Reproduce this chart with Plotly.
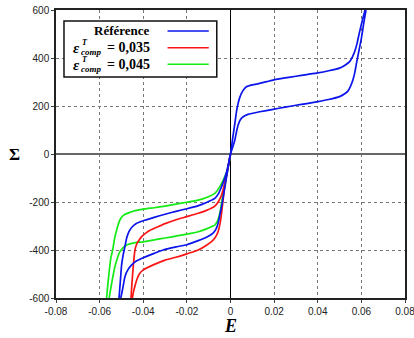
import plotly.graph_objects as go

# ---------------- data ----------------
# Reference curve (blue), branch with larger stress magnitude
ref_b1_x = [-0.0503, -0.0496, -0.0490, -0.0484, -0.0470, -0.0453, -0.0430, -0.0400, -0.0350, -0.0300,
            -0.0250, -0.0200, -0.0148, -0.0110, -0.0080, -0.0066, -0.0057, -0.0048, -0.0038, -0.0028,
            -0.0018, -0.0009, 0.0000, 0.0010, 0.0020, 0.0028, 0.0035, 0.0043, 0.0050, 0.0060,
            0.0073, 0.0100, 0.0134, 0.0195, 0.0250, 0.0300, 0.0350, 0.0400, 0.0450, 0.0500,
            0.0525, 0.0546, 0.0558, 0.0569, 0.0580, 0.0592, 0.0604, 0.0617]
ref_b1_y = [-600, -570, -540, -511, -482, -462, -445, -432, -414, -397,
            -387, -378, -361, -347, -330, -312, -289, -250, -205, -150,
            -95, -45, 0, 65, 128, 180, 211, 237, 253, 268,
            280, 288, 294, 308, 317, 324, 331, 338, 347, 358,
            370, 385, 403, 426, 460, 510, 555, 600]
# Reference curve (blue), branch with smaller stress magnitude
ref_b2_x = [-0.0511, -0.0505, -0.0499, -0.0492, -0.0484, -0.0476, -0.0465, -0.0450, -0.0430, -0.0400,
            -0.0350, -0.0300, -0.0250, -0.0200, -0.0150, -0.0110, -0.0072, -0.0055, -0.0041, -0.0030,
            -0.0018, -0.0008, 0.0000, 0.0010, 0.0020, 0.0028, 0.0035, 0.0045, 0.0058, 0.0080,
            0.0134, 0.0195, 0.0250, 0.0300, 0.0350, 0.0400, 0.0450, 0.0500, 0.0525, 0.0538,
            0.0550, 0.0561, 0.0570, 0.0579, 0.0600, 0.0610, 0.0621]
ref_b2_y = [-600, -530, -460, -420, -385, -350, -322, -303, -289, -278,
            -264, -251, -239, -228, -216, -202, -185, -165, -136, -110,
            -75, -35, 0, 28, 58, 95, 121, 143, 155, 165,
            176, 186, 195, 203, 210, 218, 227, 239, 252, 262,
            282, 308, 340, 385, 482, 540, 600]

# eps_comp^T = 0,035 (red)
c035_b1_x = [-0.0450, -0.0445, -0.0438, -0.0430, -0.0418, -0.0400, -0.0354, -0.0300, -0.0250, -0.0200,
             -0.0148, -0.0110, -0.0087, -0.0070, -0.0057, -0.0048, -0.0041, -0.0035, -0.0029, -0.0018,
             -0.0008, 0.0000]
c035_b1_y = [-600, -575, -550, -525, -500, -483, -462, -442, -430, -416,
             -400, -380, -365, -348, -324, -290, -247, -200, -150, -90,
             -40, 0]
c035_b2_x = [-0.0456, -0.0452, -0.0446, -0.0438, -0.0430, -0.0418, -0.0407, -0.0390, -0.0369, -0.0330,
             -0.0300, -0.0250, -0.0200, -0.0148, -0.0110, -0.0072, -0.0055, -0.0041, -0.0030, -0.0023,
             -0.0012, 0.0000]
c035_b2_y = [-600, -540, -470, -400, -375, -357, -344, -331, -318, -302,
             -290, -274, -261, -247, -235, -217, -198, -171, -135, -108,
             -58, 0]

# eps_comp^T = 0,045 (green)
c045_b1_x = [-0.0556, -0.0549, -0.0540, -0.0530, -0.0518, -0.0507, -0.0492, -0.0476, -0.0440, -0.0400,
             -0.0350, -0.0300, -0.0250, -0.0200, -0.0148, -0.0110, -0.0085, -0.0072, -0.0060, -0.0049,
             -0.0042, -0.0034, -0.0022, -0.0010, 0.0000]
c045_b1_y = [-600, -560, -515, -470, -432, -407, -390, -379, -370, -366,
             -358, -350, -342, -334, -324, -312, -302, -296, -280, -247,
             -210, -164, -105, -50, 0]
c045_b2_x = [-0.0568, -0.0562, -0.0555, -0.0548, -0.0540, -0.0531, -0.0520, -0.0507, -0.0490, -0.0461,
             -0.0400, -0.0350, -0.0300, -0.0250, -0.0200, -0.0148, -0.0110, -0.0072, -0.0049, -0.0026,
             -0.0014, 0.0000]
c045_b2_y = [-600, -540, -480, -430, -400, -350, -310, -275, -255, -243,
             -230, -224, -217, -209, -201, -192, -181, -164, -136, -94,
             -67, 0]

# axes ticks
x_tick_vals = [-0.08, -0.06, -0.04, -0.02, 0, 0.02, 0.04, 0.06, 0.08]
x_tick_text = ["-0.08", "-0.06", "-0.04", "-0.02", "0", "0.02", "0.04", "0.06", "0.08"]
y_tick_vals = [-600, -400, -200, 0, 200, 400, 600]
y_tick_text = ["-600", "-400", "-200", "0", "200", "400", "600"]

series_colors = {"ref": "rgb(10,20,235)", "c035": "rgb(250,20,20)", "c045": "rgb(20,235,20)"}

# ---------------- figure ----------------
W, H = 414, 338
# plot area in page pixels: x 56 -> 405.5, y 10 -> 298
ML, MR, MT, MB = 56, W - 405.5, 10, H - 298
PW, PH = W - ML - MR, H - MT - MB


def px(x):  # page pixel x -> paper coordinate
    return (x - ML) / PW


def py(y):  # page pixel y -> paper coordinate
    return (H - MB - y) / PH


fig = go.Figure()


def add_series(xs1, ys1, xs2, ys2, color):
    fig.add_trace(go.Scatter(x=xs1 + [None] + xs2, y=ys1 + [None] + ys2, mode="lines",
                             line=dict(color=color, width=1.7, shape="spline", smoothing=0.5),
                             showlegend=False, hoverinfo="skip"))


add_series(c045_b1_x, c045_b1_y, c045_b2_x, c045_b2_y, series_colors["c045"])
add_series(c035_b1_x, c035_b1_y, c035_b2_x, c035_b2_y, series_colors["c035"])
add_series(ref_b1_x, ref_b1_y, ref_b2_x, ref_b2_y, series_colors["ref"])

tickfont = dict(family="Liberation Sans, Arial, sans-serif", size=10, color="#222")

common_axis = dict(showgrid=True, gridcolor="#777", griddash="dot", gridwidth=1,
                   showline=True, linecolor="#222", linewidth=1.5, mirror=True,
                   ticks="outside", ticklen=3, tickcolor="#444", tickfont=tickfont,
                   automargin=False, ticklabeloverflow="allow")
fig.update_xaxes(range=[-0.08, 0.08], tickvals=x_tick_vals, ticktext=x_tick_text,
                 zeroline=True, zerolinecolor="black", zerolinewidth=1, **common_axis)
fig.update_yaxes(range=[-600, 600], tickvals=y_tick_vals, ticktext=y_tick_text,
                 zeroline=True, zerolinecolor="#666", zerolinewidth=2, **common_axis)

# legend box (text on the left, line samples on the right)
shapes = [dict(type="rect", xref="paper", yref="paper", x0=px(64), x1=px(217), y0=py(77), y1=py(21),
               fillcolor="white", line=dict(color="#111", width=1.5), layer="above")]
legend_rows = [("ref", 31), ("c035", 47.7), ("c045", 64.3)]
for key, yy in legend_rows:
    shapes.append(dict(type="line", xref="paper", yref="paper", x0=px(167.7), x1=px(209),
                       y0=py(yy), y1=py(yy), line=dict(color=series_colors[key], width=1.6), layer="above"))

serif = "Liberation Serif, Times New Roman, serif"
ann = []
ann.append(dict(text="<b>Référence</b>", x=px(152.5), y=py(31), xanchor="right", yanchor="middle",
                font=dict(family=serif, size=13, color="black")))
for val, yy in (("0,035", 47.7), ("0,045", 64.3)):
    ann.append(dict(text="<b><i>ε</i></b>", x=px(71), y=py(yy + 0.5), xanchor="left", yanchor="middle",
                    font=dict(family=serif, size=15, color="black")))
    ann.append(dict(text="<b><i>T</i></b>", x=px(80.5), y=py(yy - 5), xanchor="left", yanchor="middle",
                    font=dict(family=serif, size=8, color="black")))
    ann.append(dict(text="<b><i>comp</i></b>", x=px(79.5), y=py(yy + 4.5), xanchor="left", yanchor="middle",
                    font=dict(family=serif, size=9, color="black")))
    ann.append(dict(text="<b>= " + val + "</b>", x=px(152.5), y=py(yy), xanchor="right", yanchor="middle",
                    font=dict(family=serif, size=14, color="black")))

# axis titles
ann.append(dict(text="<b>Σ</b>", x=px(14), y=py(154), xanchor="center", yanchor="middle",
                font=dict(family=serif, size=17, color="black")))
ann.append(dict(text="<b><i>E</i></b>", x=px(231), y=py(326), xanchor="center", yanchor="middle",
                font=dict(family=serif, size=18, color="black")))
for a in ann:
    a.update(xref="paper", yref="paper", showarrow=False)

fig.update_layout(width=W, height=H, margin=dict(l=ML, r=MR, t=MT, b=MB, pad=0),
                  paper_bgcolor="white", plot_bgcolor="white", showlegend=False,
                  shapes=shapes, annotations=ann)

# remove the browser's default page margin so the chart sits at the window origin
fig.write_html("out.html", config={"displayModeBar": False},
               post_script="document.body.style.margin='0';")
